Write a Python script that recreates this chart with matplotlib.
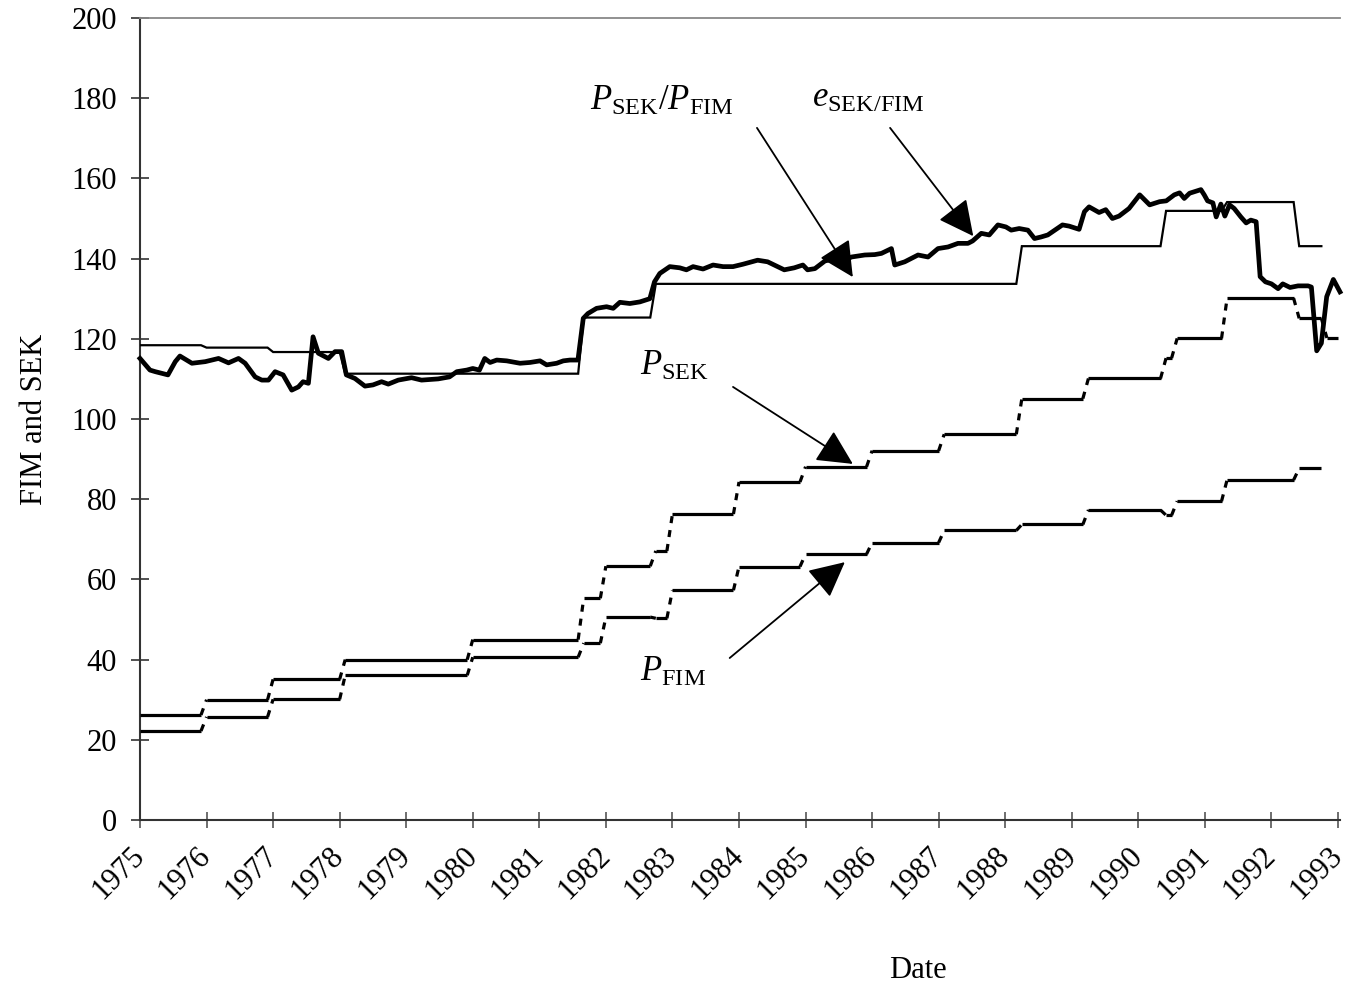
import numpy as np
import matplotlib
matplotlib.use("Agg")
import matplotlib.pyplot as plt

plt.rcParams['font.family'] = ['Liberation Serif', 'DejaVu Serif']
plt.rcParams['mathtext.fontset'] = 'custom'
plt.rcParams['mathtext.rm'] = 'Liberation Serif'
plt.rcParams['mathtext.it'] = 'Liberation Serif:italic'

# ---------------- data ----------------
years = list(range(1975, 1994))
yticks = list(range(0, 201, 20))

# exchange rate index e_SEK/FIM (monthly)
e_year = [1975.0, 1975.15, 1975.23, 1975.42, 1975.53, 1975.6, 1975.78, 1975.98, 1976.18, 1976.33,
          1976.48, 1976.58, 1976.73, 1976.83, 1976.93, 1977.03, 1977.15, 1977.28, 1977.38, 1977.45,
          1977.53, 1977.6, 1977.68, 1977.83, 1977.93, 1978.03, 1978.1, 1978.23, 1978.38, 1978.5,
          1978.63, 1978.73, 1978.88, 1979.08, 1979.23, 1979.48, 1979.65, 1979.76, 1979.91, 1980.0,
          1980.1, 1980.18, 1980.26, 1980.36, 1980.51, 1980.71, 1980.86, 1981.01, 1981.11, 1981.26,
          1981.36, 1981.46, 1981.58, 1981.66, 1981.73, 1981.86, 1982.01, 1982.11, 1982.21, 1982.36,
          1982.51, 1982.66, 1982.73, 1982.81, 1982.96, 1983.11, 1983.21, 1983.31, 1983.46, 1983.61,
          1983.76, 1983.91, 1984.06, 1984.28, 1984.43, 1984.58, 1984.68, 1984.83, 1984.96, 1985.03,
          1985.14, 1985.29, 1985.44, 1985.59, 1985.69, 1985.89, 1986.04, 1986.14, 1986.29, 1986.34,
          1986.49, 1986.69, 1986.84, 1986.99, 1987.14, 1987.29, 1987.44, 1987.51, 1987.64, 1987.76,
          1987.89, 1988.01, 1988.09, 1988.21, 1988.34, 1988.44, 1988.54, 1988.64, 1988.86, 1988.96,
          1989.11, 1989.19, 1989.26, 1989.41, 1989.51, 1989.61, 1989.71, 1989.86, 1990.02, 1990.17,
          1990.32, 1990.42, 1990.54, 1990.62, 1990.69, 1990.77, 1990.94, 1990.99, 1991.04, 1991.12,
          1991.17, 1991.24, 1991.3, 1991.37, 1991.44, 1991.54, 1991.62, 1991.69, 1991.77, 1991.83,
          1991.91, 1992.0, 1992.1, 1992.17, 1992.28, 1992.4, 1992.55, 1992.6, 1992.68, 1992.75,
          1992.83, 1992.93, 1993.03]
e_value = [115.1, 112.2, 111.8, 111.0, 114.3, 115.7, 113.9, 114.3, 115.1, 114.0,
           115.1, 113.9, 110.5, 109.7, 109.7, 111.8, 111.0, 107.2, 108.0, 109.3,
           108.9, 120.5, 116.4, 115.1, 116.8, 116.8, 111.0, 110.1, 108.2, 108.5,
           109.3, 108.7, 109.7, 110.3, 109.7, 110.0, 110.5, 111.8, 112.2, 112.6,
           112.2, 115.1, 114.1, 114.7, 114.5, 113.9, 114.1, 114.5, 113.5, 113.9,
           114.5, 114.7, 114.7, 125.1, 126.3, 127.6, 128.0, 127.6, 129.1, 128.8,
           129.2, 130.0, 134.2, 136.3, 138.0, 137.7, 137.2, 138.0, 137.4, 138.4,
           138.0, 138.0, 138.6, 139.6, 139.2, 138.0, 137.2, 137.7, 138.4, 137.2,
           137.5, 139.4, 140.0, 139.6, 140.4, 140.9, 141.0, 141.3, 142.5, 138.4,
           139.2, 140.9, 140.4, 142.5, 142.9, 143.8, 143.8, 144.4, 146.3, 145.9,
           148.4, 147.9, 147.1, 147.5, 147.1, 145.0, 145.4, 145.9, 148.4, 148.1,
           147.3, 151.7, 152.9, 151.5, 152.2, 150.0, 150.6, 152.5, 155.9, 153.4,
           154.2, 154.4, 155.9, 156.4, 155.0, 156.3, 157.2, 155.9, 154.4, 153.9,
           150.4, 153.6, 150.6, 153.4, 152.5, 150.4, 148.9, 149.6, 149.2, 135.5,
           134.2, 133.7, 132.5, 133.7, 132.8, 133.2, 133.2, 132.9, 117.0, 118.9,
           130.5, 134.8, 131.7]

# price level P_SEK (step changes: start date, level)
psek_change = [1975.0, 1976.0, 1977.0, 1978.083, 1980.0, 1981.667, 1982.0, 1982.75, 1983.0, 1984.0,
               1985.0, 1986.0, 1987.083, 1988.25, 1989.25, 1990.417, 1990.583, 1991.333, 1992.417, 1992.833]
psek_level = [26.2, 30.0, 35.1, 40.0, 45.0, 55.3, 63.3, 67.1, 76.3, 84.3,
              88.1, 92.1, 96.2, 105.1, 110.1, 115.2, 120.1, 130.1, 125.1, 120.2]
psek_end = 1993.0

# price level P_FIM
pfim_change = [1975.0, 1976.0, 1977.0, 1978.083, 1980.0, 1981.667, 1982.0, 1982.75, 1983.0, 1984.0,
               1985.0, 1986.0, 1987.083, 1988.25, 1989.25, 1990.417, 1990.583, 1991.333, 1992.417]
pfim_level = [22.2, 25.7, 30.1, 36.1, 40.6, 44.1, 50.6, 50.3, 57.3, 63.2,
              66.3, 69.2, 72.2, 73.7, 77.3, 76.0, 79.5, 84.8, 87.7]
pfim_end = 1992.75

# relative price P_SEK/P_FIM
ratio_change = [1975.0, 1976.0, 1977.0, 1978.083, 1981.667, 1982.75, 1988.25, 1990.417, 1991.333, 1992.417]
ratio_level = [118.4, 117.8, 116.7, 111.3, 125.3, 133.7, 143.1, 151.9, 154.1, 143.1]
ratio_end = 1992.75


def monthly(change, level, end):
    t = np.arange(0, int(round((end - change[0]) * 12)) + 1) / 12.0 + change[0]
    idx = np.searchsorted(np.array(change) - 1e-3, t, side='right') - 1
    return t, np.array(level)[idx]


# ---------------- figure ----------------
W, H = 1348, 989
fig = plt.figure(figsize=(W / 100, H / 100), dpi=100)
ax = fig.add_axes([140 / W, 1 - 820 / H, 1200 / W, 802 / H])
ax.set_xlim(1975, 1993.03)
ax.set_ylim(0, 200)

# thin line: relative prices
t, v = monthly(ratio_change, ratio_level, ratio_end)
ax.plot(t, v, color='black', lw=1.6, solid_joinstyle='miter', zorder=3)

# step series with dashed transitions
for ch, lv, en in [(psek_change, psek_level, psek_end), (pfim_change, pfim_level, pfim_end)]:
    t, v = monthly(ch, lv, en)
    start = 0
    for i in range(1, len(t) + 1):
        if i == len(t) or v[i] != v[i - 1]:
            ax.plot(t[start:i], v[start:i], color='black', lw=2.3, solid_capstyle='butt', zorder=3)
            if i < len(t):
                ax.plot(t[i - 1:i + 1], v[i - 1:i + 1], color='black', lw=2.3,
                        linestyle=(0, (2.2, 2.2)), zorder=3)
            start = i

# heavy line: exchange rate
ax.plot(e_year, e_value, color='black', lw=3.4, solid_joinstyle='round', zorder=4, clip_on=False)

# axes styling
ax.spines['right'].set_visible(False)
ax.spines['top'].set_color('#888888')
ax.spines['top'].set_linewidth(1.3)
for s in ['left', 'bottom']:
    ax.spines[s].set_color('#333333')
    ax.spines[s].set_linewidth(1.5)

ax.set_yticks(yticks)
ax.set_yticklabels([str(y) for y in yticks])
ax.set_xticks(years)
ax.set_xticklabels([str(y) for y in years], rotation=45, ha='right', va='center',
                   rotation_mode='anchor')
ax.tick_params(axis='y', direction='inout', length=13, width=1.2, color='#333333',
               labelsize=22, pad=10)
ax.tick_params(axis='x', direction='inout', length=12, width=1.2, color='#555555',
               labelsize=22, pad=17)

ax.set_ylabel('FIM and SEK', fontsize=22, labelpad=16)
fig.text(918 / W, 1 - 970 / H, 'Date', fontsize=22, ha='center', va='center')

# annotations
fs = 25
ax.text(1981.76, 177.1, r'$\mathit{P}_{\mathrm{SEK}}/\mathit{P}_{\mathrm{FIM}}$', fontsize=fs,
        ha='left', va='baseline')
ax.text(1985.10, 177.8, r'$\mathit{e}_{\mathrm{SEK/FIM}}$', fontsize=fs, ha='left', va='baseline')
ax.text(1982.51, 111.0, r'$\mathit{P}_{\mathrm{SEK}}$', fontsize=fs, ha='left', va='baseline')
ax.text(1982.51, 34.7, r'$\mathit{P}_{\mathrm{FIM}}$', fontsize=fs, ha='left', va='baseline')

arrows = [((1984.27, 172.6), (1985.71, 135.4)),
          ((1986.27, 172.6), (1987.52, 145.6)),
          ((1983.91, 108.0), (1985.71, 88.8)),
          ((1983.86, 40.4), (1985.59, 64.3))]
for start, end in arrows:
    ax.annotate('', xy=end, xytext=start,
                arrowprops=dict(arrowstyle='-|>,head_length=1.1,head_width=0.55',
                                mutation_scale=20, lw=1.3, color='black',
                                shrinkA=0, shrinkB=0), zorder=5)

fig.savefig('out.png', dpi=100)
